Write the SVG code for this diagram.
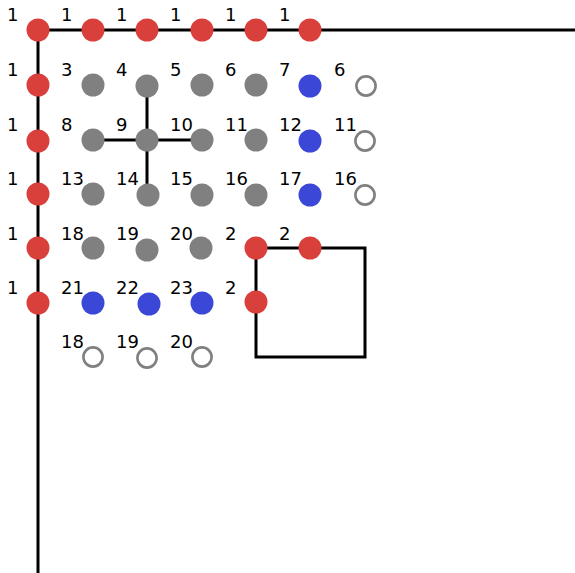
<svg xmlns="http://www.w3.org/2000/svg" width="575" height="573" viewBox="0 0 575 573">
<style>
.r{fill:#d9403b}.g{fill:#808080}.b{fill:#3b47d6}.o{fill:#fff;stroke:#808080;stroke-width:2.6}
text{font-family:"DejaVu Sans",sans-serif;font-size:18px;fill:#000}
.e{fill:none;stroke:#000;stroke-width:3}
</style>
<rect width="575" height="573" fill="#fff"/>
<g id="edges">
<path class="e" d="M38,30H575M38,30V573M147,85V194M93,140H202M256,248H365V357H256Z"/>
</g>
<g id="n1"><circle class="r" cx="38" cy="30" r="11.5"/><text x="7" y="21">1</text></g>
<g id="n2"><circle class="r" cx="93" cy="30" r="11.5"/><text x="61" y="21">1</text></g>
<g id="n3"><circle class="r" cx="147" cy="30" r="11.5"/><text x="116" y="21">1</text></g>
<g id="n4"><circle class="r" cx="202" cy="30" r="11.5"/><text x="170" y="21">1</text></g>
<g id="n5"><circle class="r" cx="256" cy="30" r="11.5"/><text x="225" y="21">1</text></g>
<g id="n6"><circle class="r" cx="310" cy="30" r="11.5"/><text x="279" y="21">1</text></g>

<g id="n7"><circle class="r" cx="38" cy="85" r="11.5"/><text x="7" y="76">1</text></g>
<g id="n8"><circle class="g" cx="93" cy="85" r="11.5"/><text x="61" y="76">3</text></g>
<g id="n9"><circle class="g" cx="147" cy="86" r="11.5"/><text x="116" y="76">4</text></g>
<g id="n10"><circle class="g" cx="202" cy="85" r="11.5"/><text x="170" y="76">5</text></g>
<g id="n11"><circle class="g" cx="256" cy="85" r="11.5"/><text x="225" y="76">6</text></g>
<g id="n12"><circle class="b" cx="310" cy="86" r="11.5"/><text x="279" y="76">7</text></g>
<g id="n13"><circle class="o" cx="366" cy="86" r="9.6"/><text x="334" y="76">6</text></g>

<g id="n14"><circle class="r" cx="38" cy="141" r="11.5"/><text x="7" y="131">1</text></g>
<g id="n15"><circle class="g" cx="93" cy="140" r="11.5"/><text x="61" y="131">8</text></g>
<g id="n16"><circle class="g" cx="147" cy="140" r="11.5"/><text x="116" y="131">9</text></g>
<g id="n17"><circle class="g" cx="202" cy="140" r="11.5"/><text x="170" y="131">10</text></g>
<g id="n18"><circle class="g" cx="256" cy="140" r="11.5"/><text x="225" y="131">11</text></g>
<g id="n19"><circle class="b" cx="310" cy="141" r="11.5"/><text x="279" y="131">12</text></g>
<g id="n20"><circle class="o" cx="365" cy="141" r="9.6"/><text x="334" y="131">11</text></g>

<g id="n21"><circle class="r" cx="38" cy="194" r="11.5"/><text x="7" y="185">1</text></g>
<g id="n22"><circle class="g" cx="93" cy="194" r="11.5"/><text x="61" y="185">13</text></g>
<g id="n23"><circle class="g" cx="148" cy="195" r="11.5"/><text x="116" y="185">14</text></g>
<g id="n24"><circle class="g" cx="202" cy="195" r="11.5"/><text x="170" y="185">15</text></g>
<g id="n25"><circle class="g" cx="256" cy="195" r="11.5"/><text x="225" y="185">16</text></g>
<g id="n26"><circle class="b" cx="310" cy="195" r="11.5"/><text x="279" y="185">17</text></g>
<g id="n27"><circle class="o" cx="365" cy="195" r="9.6"/><text x="334" y="185">16</text></g>

<g id="n28"><circle class="r" cx="38" cy="248" r="11.5"/><text x="7" y="240">1</text></g>
<g id="n29"><circle class="g" cx="93" cy="248" r="11.5"/><text x="61" y="240">18</text></g>
<g id="n30"><circle class="g" cx="147" cy="250" r="11.5"/><text x="116" y="240">19</text></g>
<g id="n31"><circle class="g" cx="201" cy="248" r="11.5"/><text x="170" y="240">20</text></g>
<g id="n32"><circle class="r" cx="256" cy="248" r="11.5"/><text x="225" y="240">2</text></g>
<g id="n33"><circle class="r" cx="310" cy="248" r="11.5"/><text x="279" y="240">2</text></g>

<g id="n34"><circle class="r" cx="38" cy="303" r="11.5"/><text x="7" y="294">1</text></g>
<g id="n35"><circle class="b" cx="93" cy="303" r="11.5"/><text x="61" y="294">21</text></g>
<g id="n36"><circle class="b" cx="149" cy="304" r="11.5"/><text x="116" y="294">22</text></g>
<g id="n37"><circle class="b" cx="202" cy="303" r="11.5"/><text x="170" y="294">23</text></g>
<g id="n38"><circle class="r" cx="256" cy="302" r="11.5"/><text x="225" y="294">2</text></g>

<g id="n39"><circle class="o" cx="93" cy="357" r="9.6"/><text x="61" y="348">18</text></g>
<g id="n40"><circle class="o" cx="147" cy="358" r="9.6"/><text x="116" y="348">19</text></g>
<g id="n41"><circle class="o" cx="202" cy="357" r="9.6"/><text x="170" y="348">20</text></g>
</svg>
